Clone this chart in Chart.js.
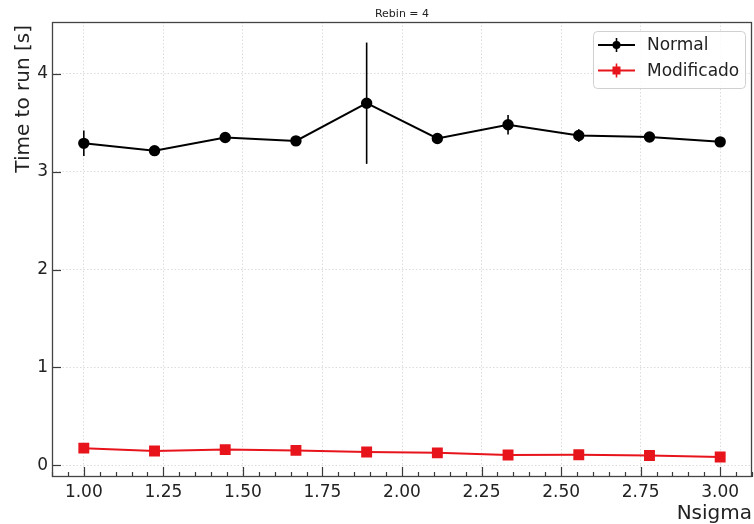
<!DOCTYPE html>
<html>
<head>
<meta charset="utf-8">
<script src="https://cdn.jsdelivr.net/npm/chart.js@4"></script>
<style>
html,body{margin:0;padding:0;background:#fff;}
#wrap{width:754px;height:524px;position:relative;}
</style>
</head>
<body>
<div id="wrap"><canvas id="c" width="754" height="524"></canvas></div>
<script>
const nsigma = [1.0, 1.2222, 1.4444, 1.6667, 1.8889, 2.1111, 2.3333, 2.5556, 2.7778, 3.0];
const normalTime = [3.29, 3.215, 3.35, 3.315, 3.70, 3.34, 3.48, 3.37, 3.355, 3.305];
const normalErr = [0.13, 0.01, 0.035, 0.01, 0.62, 0.01, 0.10, 0.065, 0.01, 0.01];
const modTime = [0.175, 0.145, 0.16, 0.152, 0.135, 0.127, 0.105, 0.107, 0.10, 0.085];
const modErr = [0.008, 0.005, 0.006, 0.005, 0.004, 0.004, 0.004, 0.004, 0.004, 0.004];
const xTicks = [1.0, 1.25, 1.5, 1.75, 2.0, 2.25, 2.5, 2.75, 3.0];
const yTicks = [0, 1, 2, 3, 4];
const seriesLabels = ['Normal', 'Modificado'];
const titleText = 'Rebin = 4';
const xLabel = 'Nsigma';
const yLabel = 'Time to run [s]';

const BLACK = '#000000';
const RED = '#e8141c';
const FONT = "'DejaVu Sans', sans-serif";

function pts(xs, ys){ return xs.map((x,i)=>({x:x, y:ys[i]})); }

const decor = {
  id:'decor',
  beforeDatasetsDraw(chart){
    const ctx = chart.ctx, xs = chart.scales.x, ys = chart.scales.y;
    chart.data.datasets.forEach(ds=>{
      ctx.save();
      ctx.strokeStyle = ds.borderColor;
      ctx.lineWidth = 1.6;
      ds.data.forEach((p,i)=>{
        const e = ds.errors[i];
        const px = xs.getPixelForValue(p.x);
        ctx.beginPath();
        ctx.moveTo(px, ys.getPixelForValue(p.y - e));
        ctx.lineTo(px, ys.getPixelForValue(p.y + e));
        ctx.stroke();
      });
      ctx.restore();
    });
  },
  afterDraw(chart){
    const ctx = chart.ctx, xs = chart.scales.x, ys = chart.scales.y, a = chart.chartArea;
    ctx.save();
    ctx.strokeStyle = '#3a3a3a';
    ctx.lineWidth = 1.2;
    xTicks.forEach(v=>{
      const px = Math.round(xs.getPixelForValue(v))+0.5;
      ctx.beginPath(); ctx.moveTo(px, a.bottom); ctx.lineTo(px, a.bottom-10); ctx.stroke();
    });
    for(let k=-2;k<=42;k++){
      const v = 1.0 + k*0.05;
      if (v < xs.min || v > xs.max) continue;
      if (Math.abs((v*4) - Math.round(v*4)) < 1e-6) continue;
      const px = Math.round(xs.getPixelForValue(v))+0.5;
      ctx.beginPath(); ctx.moveTo(px, a.bottom); ctx.lineTo(px, a.bottom-5); ctx.stroke();
    }
    yTicks.forEach(v=>{
      const py = Math.round(ys.getPixelForValue(v))+0.5;
      ctx.beginPath(); ctx.moveTo(a.left, py); ctx.lineTo(a.left+9, py); ctx.stroke();
    });
    ctx.strokeStyle = '#444';
    ctx.lineWidth = 1.3;
    ctx.strokeRect(a.left+0.5, a.top+0.5, a.right-a.left-1, a.bottom-a.top-1);
    ctx.fillStyle = '#222';
    ctx.font = '11px ' + FONT;
    ctx.textAlign = 'center'; ctx.textBaseline = 'alphabetic';
    ctx.fillText(titleText, (a.left+a.right)/2, 17);
    ctx.font = '20px ' + FONT;
    ctx.textAlign = 'right'; ctx.textBaseline = 'alphabetic';
    ctx.fillText(xLabel, a.right, 519);
    ctx.save();
    ctx.translate(29, a.top + 3);
    ctx.rotate(-Math.PI/2);
    ctx.textAlign = 'right';
    ctx.fillText(yLabel, 0, 0);
    ctx.restore();
    const bx = 593, by = 31, bw = 152, bh = 57;
    ctx.fillStyle = 'rgba(255,255,255,0.85)';
    ctx.strokeStyle = '#d0d0d0';
    ctx.lineWidth = 1;
    ctx.beginPath();
    ctx.roundRect(bx+0.5, by+0.5, bw, bh, 4);
    ctx.fill(); ctx.stroke();
    chart.data.datasets.forEach((ds, i)=>{
      const cy = by + 14 + i*25.5;
      ctx.strokeStyle = ds.borderColor;
      ctx.fillStyle = ds.borderColor;
      ctx.lineWidth = 2;
      ctx.beginPath(); ctx.moveTo(598, cy); ctx.lineTo(635, cy); ctx.stroke();
      ctx.lineWidth = 1.6;
      ctx.beginPath(); ctx.moveTo(616.5, cy-7); ctx.lineTo(616.5, cy+7); ctx.stroke();
      if (ds.pointStyle === 'rect'){
        ctx.fillRect(612.5, cy-4, 8, 8);
      } else {
        ctx.beginPath(); ctx.arc(616.5, cy, 4, 0, Math.PI*2); ctx.fill();
      }
      ctx.fillStyle = '#222';
      ctx.font = '17px ' + FONT;
      ctx.textAlign = 'left'; ctx.textBaseline = 'middle';
      ctx.fillText(ds.label, 647, cy+1);
    });
    ctx.restore();
  }
};

new Chart(document.getElementById('c'), {
  type:'line',
  data:{
    datasets:[
      {label:seriesLabels[0], data:pts(nsigma, normalTime), errors:normalErr,
       borderColor:BLACK, backgroundColor:BLACK, borderWidth:2,
       pointStyle:'circle', pointRadius:4.7, pointHoverRadius:4.7, tension:0},
      {label:seriesLabels[1], data:pts(nsigma, modTime), errors:modErr,
       borderColor:RED, backgroundColor:RED, borderWidth:2,
       pointStyle:'rect', pointRadius:6.3, pointHoverRadius:6.3, tension:0}
    ]
  },
  options:{
    responsive:false, animation:false,
    devicePixelRatio:1,
    layout:{autoPadding:false, padding:{top:22, right:2, left:0, bottom:0}},
    plugins:{legend:{display:false}, title:{display:false}, tooltip:{enabled:false}},
    scales:{
      x:{type:'linear', min:0.9, max:3.1,
        afterBuildTicks(s){ s.ticks = xTicks.map(v=>({value:v})); },
        afterFit(s){ s.height = 47; s.paddingLeft = 0; s.paddingRight = 0; },
        ticks:{padding:5, font:{family:FONT, size:17}, color:'#222',
          callback:v=>v.toFixed(2), maxRotation:0, autoSkip:false},
        grid:{color:'#dcdcdc', lineWidth:1, drawTicks:false},
        border:{display:false, dash:[1.5,2]}
      },
      y:{type:'linear', min:-0.12, max:4.53,
        afterBuildTicks(s){ s.ticks = yTicks.map(v=>({value:v})); },
        afterFit(s){ s.width = 52; s.paddingTop = 0; s.paddingBottom = 0; },
        ticks:{padding:4, font:{family:FONT, size:17}, color:'#222',
          callback:v=>String(v), autoSkip:false},
        grid:{color:'#dcdcdc', lineWidth:1, drawTicks:false},
        border:{display:false, dash:[1.5,2]}
      }
    }
  },
  plugins:[decor]
});
</script>
</body>
</html>
